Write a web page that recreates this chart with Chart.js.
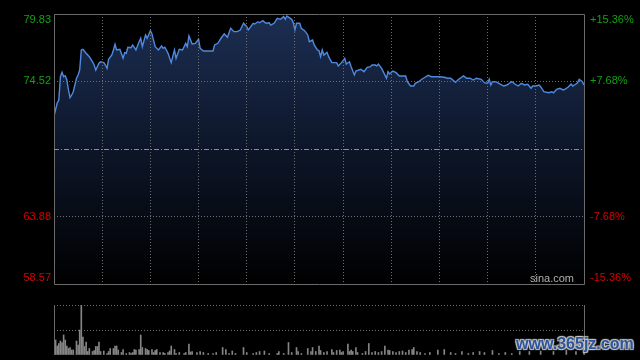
<!DOCTYPE html>
<html>
<head>
<meta charset="utf-8">
<script src="https://cdn.jsdelivr.net/npm/chart.js@4.4.1/dist/chart.umd.min.js"></script>
<style>
  html, body { margin: 0; padding: 0; background: #000; }
  #wrap { position: relative; width: 640px; height: 360px; overflow: hidden; }
  canvas { position: absolute; left: 0; top: 0; }
  #wm {
    position: absolute; left: 516px; top: 335px;
    font: bold 16px "Liberation Sans", Arial, sans-serif;
    color: #2d559c; white-space: nowrap;
    text-shadow: -1px -1px 1px #c8c8c8, 1px -1px 1px #c8c8c8, -1px 1px 1px #c8c8c8, 1px 1px 1px #c8c8c8;
  }
</style>
</head>
<body>
<div id="wrap">
  <canvas id="price" width="640" height="360"></canvas>
  <canvas id="vol" width="640" height="360"></canvas>
  <div id="wm">www.365jz.com</div>
</div>
<script>
// Intraday price (minutes from open, 330 min session)
const priceMinutes = [0,2,3,4,5,6,7,8,9,10,11,12,14,15,16,17,18,20,22,24,25,26,28,29,31,32,33,34,36,37,38,39,41,43,44,45,46,48,49,51,53,54,55,57,58,60,61,63,65,67,68,69,71,73,75,76,78,80,82,83,84,86,88,90,91,93,99,100,102,104,106,108,110,112,114,116,118,120,121,124,125,127,128,130,132,134,135,137,139,141,143,144,145,148,149,150,151,153,154,156,158,159,161,162,164,165,166,167,168,170,171,173,176,177,179,181,182,184,185,187,188,191,193,195,197,198,200,201,202,204,205,207,208,209,211,213,215,217,219,220,222,224,225,227,229,231,233,235,240,243,245,247,250,252,255,257,259,261,263,266,268,270,271,272,273,275,277,280,282,284,285,287,289,291,293,295,297,298,300,302,303,305,308,310,311,313,315,317,318,320,322,323,325,326,327,329,330];
const prices = [71.80,72.82,73.06,74.89,75.24,74.89,74.97,74.63,73.85,73.24,73.45,73.71,74.77,75.03,75.42,77.00,77.05,76.74,76.47,76.07,75.81,75.42,75.95,76.07,76.00,75.81,75.55,76.26,76.60,77.00,77.44,77.00,77.05,76.34,76.78,76.74,77.21,77.18,77.39,77.00,77.65,77.92,77.26,78.18,77.92,78.52,78.26,77.26,77.00,77.31,77.13,77.21,76.74,76.00,77.00,76.34,77.05,77.00,77.52,77.26,78.10,77.47,77.52,77.84,77.13,76.92,76.92,77.39,77.52,77.92,78.26,78.00,78.70,78.44,78.44,78.57,79.10,78.83,78.57,79.10,79.04,79.22,79.14,79.30,79.10,79.14,78.96,79.10,79.49,79.41,79.62,79.41,79.67,79.41,79.14,78.57,79.10,79.10,78.70,78.52,78.18,77.65,77.78,77.39,77.00,76.94,76.47,77.00,76.60,76.81,76.47,76.00,76.00,75.74,76.00,76.34,75.89,76.07,75.68,75.03,75.34,75.48,75.29,75.63,75.68,75.81,75.81,75.74,75.89,75.55,75.29,74.77,75.29,75.11,75.34,75.21,74.95,74.95,74.95,74.50,74.16,74.16,74.37,74.50,74.69,74.85,75.00,74.89,74.89,74.85,74.77,74.77,74.45,74.69,74.95,74.77,74.77,74.63,74.77,74.69,74.42,74.37,74.69,74.24,74.50,74.50,74.37,74.16,74.24,74.42,74.50,74.32,74.16,74.37,74.24,74.29,73.98,74.16,74.16,74.24,74.11,73.71,73.63,73.71,73.63,73.90,73.98,73.85,73.90,74.06,74.32,74.16,74.32,74.42,74.69,74.50,74.24];

// Volume bars
const volMinutes = [1,2,3,4,5,6,7,8,9,10,11,12,14,15,16,17,18,19,20,21,22,24,25,26,27,28,29,31,33,34,35,37,38,39,40,42,43,45,47,48,49,50,51,53,54,55,57,58,59,61,62,63,64,66,68,69,71,72,73,75,76,78,81,82,84,85,86,89,91,93,96,99,101,105,107,109,111,113,118,120,124,126,128,131,134,139,140,143,146,148,151,152,154,158,160,161,163,165,166,168,170,173,174,176,178,179,180,183,184,185,186,188,189,192,194,196,198,200,202,204,206,208,209,211,213,215,217,219,221,223,224,226,228,231,234,239,243,247,250,254,258,261,265,268,273,277,281,285,290,296,303,311,319,325,330];
const volumes = [30,18,23,28,25,40,30,18,13,15,10,10,28,20,50,100,36,17,26,7,13,7,9,17,17,26,7,8,3,7,13,13,18,18,10,5,11,3,5,3,5,11,10,11,40,15,13,11,9,11,5,9,11,5,5,3,5,8,18,11,3,5,3,5,22,6,7,5,7,5,3,3,5,15,11,3,8,3,15,5,3,5,7,8,3,3,7,3,25,5,15,7,3,13,7,15,7,18,9,5,7,11,5,9,10,5,7,22,7,10,7,15,5,3,7,23,5,7,5,7,18,10,9,7,5,7,8,5,10,11,15,7,5,3,5,10,11,5,3,7,3,5,7,5,9,3,5,3,7,7,8,7,10,7,8];

// Axis labels
const prevClose = 69.20;
const priceTicks = [58.57, 63.88, 69.20, 74.52, 79.83];
const pctTicks = ["-15.36%", "-7.68%", "", "+7.68%", "+15.36%"];
const timeTicks = [0, 30, 60, 90, 120, 150, 180, 210, 240, 270, 300, 330];

const GREEN = "#14a014";
const RED = "#d80000";
const FRAME = "#6a6a6a";
const GRID = "#6e6e6e";

// Frame around the plot area
const framePlugin = {
  id: "frame",
  afterDraw(chart, args, opts) {
    const a = chart.chartArea;
    const ctx = chart.ctx;
    ctx.save();
    ctx.strokeStyle = FRAME;
    ctx.lineWidth = 1;
    ctx.beginPath();
    if (opts.full) {
      ctx.rect(a.left + 0.5, a.top + 0.5, a.right - a.left, a.bottom - a.top);
    } else {
      ctx.moveTo(a.left + 0.5, a.top);
      ctx.lineTo(a.left + 0.5, a.bottom);
      ctx.moveTo(a.right + 0.5, a.top);
      ctx.lineTo(a.right + 0.5, a.bottom);
    }
    ctx.stroke();
    ctx.restore();
  },
};

// Previous close line and price / percent labels
const labelPlugin = {
  id: "labels",
  afterDraw(chart) {
    const a = chart.chartArea;
    const y = chart.scales.y;
    const ctx = chart.ctx;
    ctx.save();
    // previous close dash-dot line
    const py = Math.round(y.getPixelForValue(prevClose)) + 0.5;
    ctx.strokeStyle = "#8a8f98";
    ctx.setLineDash([5, 2, 1, 2]);
    ctx.beginPath();
    ctx.moveTo(a.left, py);
    ctx.lineTo(a.right, py);
    ctx.stroke();
    ctx.setLineDash([]);

    ctx.font = "11px 'Liberation Sans', Arial, sans-serif";
    ctx.textBaseline = "middle";
    priceTicks.forEach((v, i) => {
      if (v === prevClose) return;
      let ty = y.getPixelForValue(v);
      if (i === priceTicks.length - 1) ty += 6;
      if (i === 0) ty -= 6;
      ctx.fillStyle = v > prevClose ? GREEN : RED;
      ctx.textAlign = "right";
      ctx.fillText(v.toFixed(2), a.left - 3, ty);
      ctx.textAlign = "left";
      ctx.fillText(pctTicks[i], a.right + 6, ty);
    });

    ctx.fillStyle = "#b0b0b0";
    ctx.textAlign = "right";
    ctx.textBaseline = "alphabetic";
    ctx.fillText("sina.com", a.right - 10, a.bottom - 2);
    ctx.restore();
  },
};

const priceChart = new Chart(document.getElementById("price"), {
  type: "line",
  data: {
    datasets: [{
      data: priceMinutes.map((m, i) => ({ x: m, y: prices[i] })),
      borderColor: "#4f8ae0",
      borderWidth: 1.4,
      pointRadius: 0,
      tension: 0,
      fill: "start",
      backgroundColor: (c) => {
        const a = c.chart.chartArea;
        if (!a) return "transparent";
        const g = c.chart.ctx.createLinearGradient(0, a.top, 0, a.bottom);
        g.addColorStop(0, "#1c2e52");
        g.addColorStop(0.5, "#0d1629");
        g.addColorStop(1, "#000000");
        return g;
      },
    }],
  },
  options: {
    responsive: false,
    animation: false,
    events: [],
    layout: { padding: { left: 54, right: 56, top: 14, bottom: 76 } },
    plugins: { legend: { display: false }, tooltip: { enabled: false }, frame: { full: true } },
    scales: {
      x: {
        type: "linear",
        min: 0,
        max: 330,
        afterBuildTicks: (s) => { s.ticks = timeTicks.map((v) => ({ value: v })); },
        ticks: { display: false },
        grid: {
          z: 1,
          drawTicks: false,
          color: (c) => (c.tick && (c.tick.value === 0 || c.tick.value === 330) ? "transparent" : GRID),
        },
        border: { display: false, dash: [1, 2] },
      },
      y: {
        min: priceTicks[0],
        max: priceTicks[priceTicks.length - 1],
        afterBuildTicks: (s) => { s.ticks = priceTicks.map((v) => ({ value: v })); },
        ticks: { display: false },
        grid: {
          z: 1,
          drawTicks: false,
          color: (c) => {
            const v = c.tick && c.tick.value;
            return v === priceTicks[1] || v === priceTicks[3] ? GRID : "transparent";
          },
        },
        border: { display: false, dash: [1, 2] },
      },
    },
  },
  plugins: [framePlugin, labelPlugin],
});

const volChart = new Chart(document.getElementById("vol"), {
  type: "bar",
  data: {
    datasets: [{
      data: volMinutes.map((m, i) => ({ x: m, y: volumes[i] })),
      backgroundColor: "#858585",
      barThickness: 1,
    }],
  },
  options: {
    responsive: false,
    animation: false,
    events: [],
    layout: { padding: { left: 54, right: 56, top: 305, bottom: 5 } },
    plugins: { legend: { display: false }, tooltip: { enabled: false }, frame: { full: false } },
    scales: {
      x: {
        type: "linear",
        min: 0,
        max: 330,
        offset: false,
        display: false,
      },
      y: {
        min: 0,
        max: 100,
        afterBuildTicks: (s) => { s.ticks = [0, 50, 100].map((v) => ({ value: v })); },
        ticks: { display: false },
        grid: {
          drawTicks: false,
          color: (c) => (c.tick && c.tick.value > 0 ? GRID : "transparent"),
        },
        border: { display: false, dash: [1, 2] },
      },
    },
  },
  plugins: [framePlugin],
});
</script>
</body>
</html>
